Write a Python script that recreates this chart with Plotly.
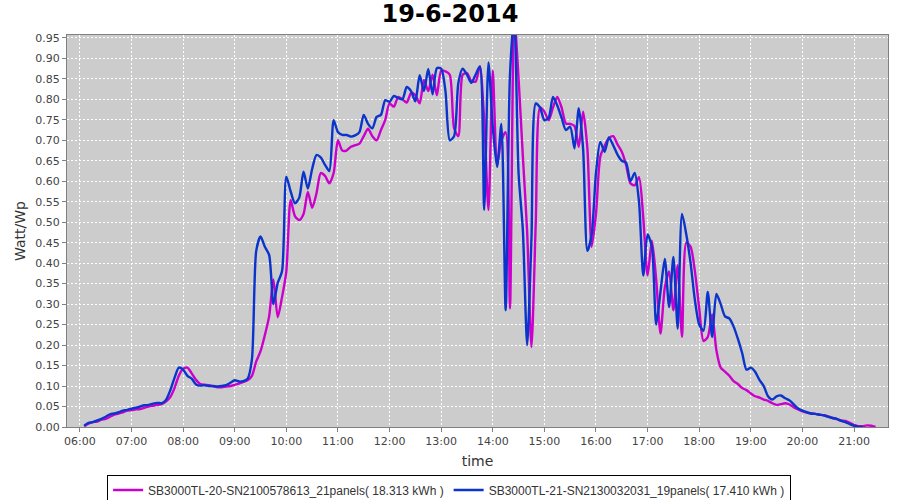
import pandas as pd
import plotly.graph_objects as go

# 5-minute samples, 19-6-2014, 06:05 .. 21:25
day = "2014-06-19"
start_time = "06:05"
n_points = 185

series1_name = "SB3000TL-20-SN2100578613_21panels( 18.313 kWh )"
series2_name = "SB3000TL-21-SN2130032031_19panels( 17.410 kWh )"

series1 = [
    # 06:05-06:55
    0.002, 0.008, 0.012, 0.013, 0.018, 0.020, 0.025, 0.030, 0.033, 0.036, 0.040,
    # 07
    0.041, 0.043, 0.044, 0.047, 0.050, 0.052, 0.054, 0.056, 0.062, 0.073, 0.095, 0.125,
    # 08
    0.142, 0.145, 0.131, 0.115, 0.105, 0.103, 0.102, 0.099, 0.097, 0.097, 0.099, 0.100,
    # 09
    0.103, 0.106, 0.110, 0.114, 0.125, 0.160, 0.185, 0.224, 0.270, 0.360, 0.268, 0.317,
    # 10
    0.380, 0.554, 0.515, 0.505, 0.520, 0.574, 0.535, 0.570, 0.620, 0.613, 0.595, 0.620,
    # 11
    0.700, 0.675, 0.675, 0.684, 0.688, 0.692, 0.710, 0.728, 0.710, 0.700, 0.725, 0.750,
    # 12
    0.790, 0.782, 0.806, 0.800, 0.792, 0.815, 0.810, 0.790, 0.847, 0.820, 0.860, 0.810,
    # 13
    0.870, 0.868, 0.860, 0.730, 0.710, 0.860, 0.864, 0.845, 0.843, 0.880, 0.750, 0.530,
    # 14
    0.870, 0.640, 0.700, 0.720, 0.289, 1.000, 0.850, 0.660, 0.475, 0.195, 0.500, 0.780,
    # 15
    0.770, 0.749, 0.780, 0.806, 0.780, 0.741, 0.740, 0.735, 0.684, 0.770, 0.680, 0.440,
    # 16
    0.520, 0.660, 0.686, 0.705, 0.710, 0.690, 0.672, 0.640, 0.595, 0.590, 0.610, 0.510,
    # 17
    0.370, 0.455, 0.360, 0.228, 0.340, 0.380, 0.285, 0.395, 0.220, 0.450, 0.440, 0.380,
    # 18
    0.290, 0.210, 0.220, 0.275, 0.187, 0.145, 0.135, 0.125, 0.112, 0.105, 0.095, 0.090,
    # 19
    0.082, 0.075, 0.072, 0.067, 0.064, 0.058, 0.054, 0.056, 0.058, 0.055, 0.048, 0.043,
    # 20
    0.038, 0.035, 0.033, 0.032, 0.030, 0.029, 0.026, 0.022, 0.019, 0.016, 0.015, 0.010,
    # 21:00-21:25
    0.005, 0.002, 0.002, 0.004, 0.003, 0.000,
]

series2 = [
    # 06:05-06:55
    0.003, 0.010, 0.012, 0.016, 0.020, 0.025, 0.031, 0.033, 0.036, 0.040, 0.042,
    # 07
    0.045, 0.047, 0.050, 0.053, 0.054, 0.057, 0.059, 0.058, 0.066, 0.089, 0.120, 0.145,
    # 08
    0.140, 0.125, 0.118, 0.104, 0.101, 0.102, 0.100, 0.100, 0.099, 0.100, 0.102, 0.108,
    # 09
    0.114, 0.111, 0.112, 0.118, 0.165, 0.430, 0.465, 0.440, 0.420, 0.300, 0.352, 0.380,
    # 10
    0.611, 0.575, 0.546, 0.560, 0.623, 0.582, 0.630, 0.664, 0.658, 0.640, 0.625, 0.749,
    # 11
    0.720, 0.713, 0.713, 0.709, 0.712, 0.720, 0.762, 0.740, 0.729, 0.757, 0.762, 0.798,
    # 12
    0.794, 0.808, 0.803, 0.800, 0.830, 0.820, 0.795, 0.859, 0.820, 0.874, 0.812, 0.876,
    # 13
    0.875, 0.820, 0.700, 0.710, 0.840, 0.875, 0.860, 0.840, 0.860, 0.880, 0.530, 0.890,
    # 14
    0.733, 0.635, 0.740, 0.285, 0.860, 1.000, 0.620, 0.480, 0.200, 0.460, 0.790, 0.780,
    # 15
    0.749, 0.755, 0.806, 0.785, 0.755, 0.725, 0.733, 0.680, 0.778, 0.680, 0.430, 0.470,
    # 16
    0.620, 0.696, 0.672, 0.707, 0.688, 0.665, 0.650, 0.645, 0.600, 0.620, 0.550, 0.370,
    # 17
    0.470, 0.440, 0.250, 0.330, 0.410, 0.293, 0.415, 0.240, 0.520, 0.470, 0.400, 0.310,
    # 18
    0.250, 0.235, 0.330, 0.220, 0.325, 0.300, 0.270, 0.265, 0.245, 0.215, 0.180, 0.140,
    # 19
    0.145, 0.135, 0.115, 0.100, 0.075, 0.067, 0.075, 0.077, 0.070, 0.065, 0.055, 0.045,
    # 20
    0.040, 0.036, 0.033, 0.032, 0.030, 0.028, 0.025, 0.022, 0.020, 0.015, 0.012, 0.007,
    # 21:00-21:25
    0.003, 0.001, 0.000, None, None, None,
]

y_ticks = [0.00, 0.05, 0.10, 0.15, 0.20, 0.25, 0.30, 0.35, 0.40, 0.45,
           0.50, 0.55, 0.60, 0.65, 0.70, 0.75, 0.80, 0.85, 0.90, 0.95]
y_tick_labels = [f"{v:.2f}" for v in y_ticks]

times = pd.date_range(f"{day} {start_time}", periods=n_points, freq="5min")

color1 = "#cc00cc"
color2 = "#0a34cc"

fig = go.Figure()
fig.add_trace(go.Scatter(x=times, y=series1, mode="lines", name=series1_name,
                         line=dict(color=color1, width=2.4, shape="spline", smoothing=0.7)))
fig.add_trace(go.Scatter(x=times, y=series2, mode="lines", name=series2_name,
                         line=dict(color=color2, width=2.4, shape="spline", smoothing=0.7)))

font_family = "DejaVu Sans, Verdana, sans-serif"

fig.update_layout(
    width=900, height=500,
    margin=dict(l=67, r=12, t=35, b=73, autoexpand=False),
    paper_bgcolor="white",
    plot_bgcolor="#cccccc",
    font=dict(family=font_family, size=11, color="#444444"),
    title=dict(text="<b>19-6-2014</b>", x=0.5, xanchor="center", y=0.972, yanchor="middle",
               font=dict(family=font_family, size=24, color="black")),
    showlegend=True,
    legend=dict(orientation="h", x=0.499, xanchor="center", xref="container",
                y=0.051, yanchor="top", yref="container",
                bordercolor="black", borderwidth=1, bgcolor="white",
                font=dict(family="Liberation Sans, Arial, sans-serif", size=12, color="#333333"),
                itemwidth=30, tracegroupgap=0),
)

fig.update_xaxes(
    type="date", automargin=False,
    range=[f"{day} 05:45", f"{day} 21:39:30"],
    dtick=3600000, tick0=f"{day} 06:00", tickformat="%H:%M",
    showgrid=True, gridcolor="white", griddash="2px,2px", gridwidth=1,
    showline=True, linecolor="#808080", linewidth=1, mirror=True,
    ticks="outside", ticklen=4, tickcolor="#808080",
    tickfont=dict(size=11, color="#444444"),
    title=dict(text="time", font=dict(size=14, color="#333333"), standoff=8),
    zeroline=False,
)
fig.update_yaxes(
    automargin=False,
    range=[0, 0.957],
    tickvals=y_ticks, ticktext=y_tick_labels,
    showgrid=True, gridcolor="white", griddash="2px,2px", gridwidth=1,
    showline=True, linecolor="#808080", linewidth=1, mirror=True,
    ticks="outside", ticklen=4, tickcolor="#808080",
    tickfont=dict(size=11, color="#444444"),
    title=dict(text="Watt/Wp", font=dict(size=14, color="#333333"), standoff=6),
    zeroline=False,
)

fig.write_html("out.html", config={"displayModeBar": False},
               post_script="document.body.style.margin='0';document.body.style.padding='0';")
